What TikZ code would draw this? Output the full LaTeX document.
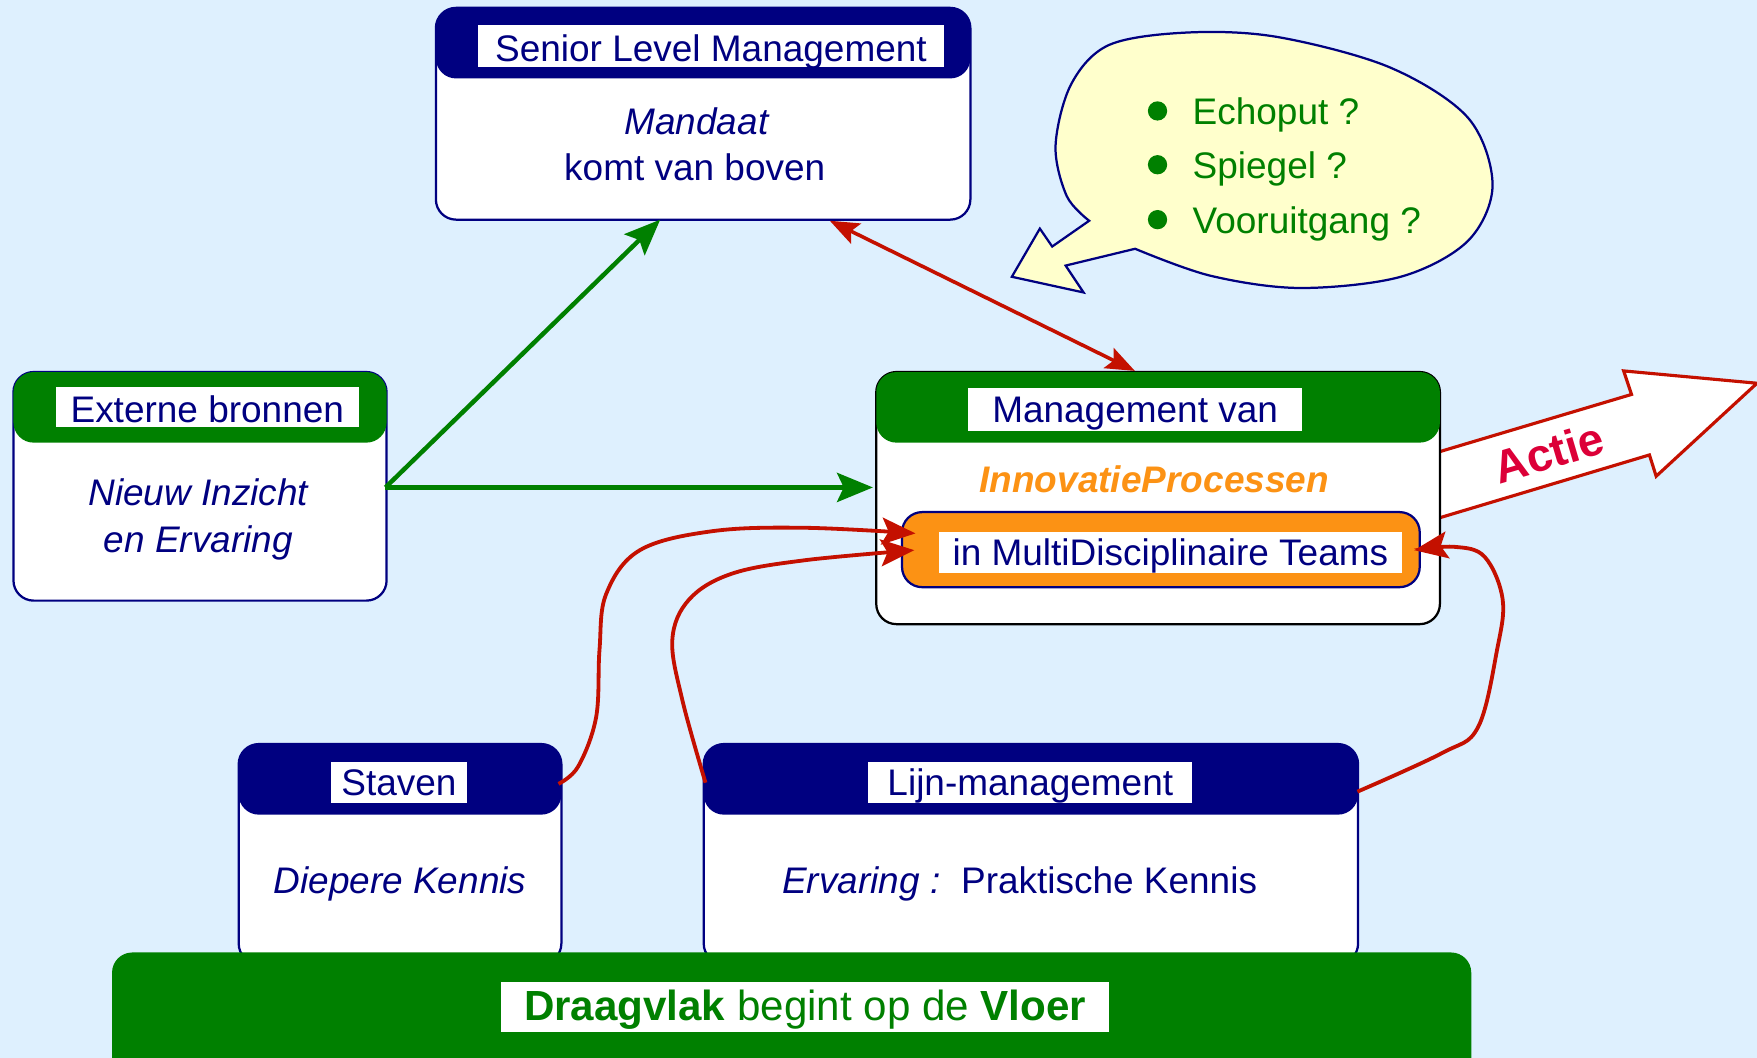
\documentclass[tikz,border=0pt]{standalone}
\usepackage{fontspec}
\setmainfont{Liberation Sans}
\usetikzlibrary{arrows.meta,calc}
\definecolor{bg}{RGB}{222,240,254}
\definecolor{navy}{RGB}{0,0,128}
\definecolor{dgreen}{RGB}{0,128,0}
\definecolor{orng}{RGB}{252,146,20}
\definecolor{rred}{RGB}{196,16,0}
\definecolor{crim}{RGB}{220,0,56}
\definecolor{ylw}{RGB}{255,255,204}
\newcommand\basefs{\fontsize{16.5}{21}\selectfont}
\begin{document}
\begin{tikzpicture}[x=0.5pt,y=-0.5pt,font=\basefs,
  bodybox/.style={draw=navy,line width=1pt,fill=white,rounded corners=9pt,inner sep=0pt},
  headbox/.style={fill=#1,rounded corners=9pt,inner sep=0pt,minimum height=31.5pt},
  lblbox/.style={fill=white,inner sep=0pt,text=navy,minimum height=19pt,text height=12pt,text depth=3.5pt},
  btext/.style={text=navy,inner sep=0pt,anchor=base},
  garrow/.style={draw=dgreen,line width=2pt,-{Stealth[length=16pt,width=13pt,inset=3pt]}},
  rarrow/.style={draw=rred,line width=1.6pt,{Stealth[length=13pt,width=10pt,inset=2.5pt]}-{Stealth[length=13pt,width=10pt,inset=2.5pt]}},
  rcurve/.style={draw=rred,line width=1.7pt,-{Stealth[length=15pt,width=12pt,inset=3pt]}},
  bubtext/.style={text=dgreen,anchor=base west,inner sep=0pt}]
\clip (0,0) rectangle (1568,944);
\fill[bg] (0,0) rectangle (1568,944);

% Actie arrow (behind management box)
\draw[draw=rred,line width=1.4pt,fill=white,line join=miter]
  (1285,403) -- (1456,352) -- (1449,331) -- (1568,342) -- (1478,425) -- (1472,406) -- (1285,462);
\node[rotate=16.5,text=crim,font=\fontsize{20.5}{22}\selectfont\bfseries,inner sep=0pt] (actie) at (1382,404) {Actie};

% Bubble
\draw[draw=navy,line width=1pt,fill=ylw,line join=miter]
  plot[smooth,tension=0.55] coordinates {(1013,222) (1080,246) (1160,257) (1250,247) (1310,215) (1332,165) (1310,105) (1240,60) (1140,33) (1060,29) (990,40) (956,75) (942,130) (952,175) (972,197)}
  -- (939,220) -- (928,204) -- (903,247) -- (967,261) -- (951,237) -- cycle;
\fill[dgreen] (1033,99) circle (4.3pt);
\fill[dgreen] (1033,147) circle (4.3pt);
\fill[dgreen] (1033,196) circle (4.3pt);
\node[bubtext] (b1) at (1064,111) {Echoput ?};
\node[bubtext] (b2) at (1064,159) {Spiegel ?};
\node[bubtext] (b3) at (1064,208) {Vooruitgang ?};

% Senior Level Management
\node[bodybox,minimum width=238.5pt,minimum height=94.5pt] (senior) at (627.5,101.5) {};
\node[headbox=navy,minimum width=238.5pt] (seniorhead) at (627.5,38.5) {};
\node[lblbox,minimum width=207.5pt] (seniorlbl) at (634.5,41) {\raisebox{-2.5pt}{Senior Level Management}};
\node[btext] (mandaat) at (621.5,120) {\itshape Mandaat};
\node[btext] (komt) at (620,161.5) {komt van boven};

% Externe bronnen
\node[bodybox,minimum width=166.5pt,minimum height=102pt] (ext) at (178.5,434) {};
\node[headbox=dgreen,minimum width=166.5pt] (exthead) at (178.5,363.5) {};
\node[lblbox,minimum width=135pt,minimum height=18pt] (extlbl) at (185,363.5) {\raisebox{-2.5pt}{Externe bronnen}};
\node[btext] (ext1) at (177,451.5) {\itshape Nieuw Inzicht};
\node[btext] (ext2) at (177,493) {\itshape en Ervaring};

% Management van
\node[bodybox,draw=black,minimum width=251.5pt,minimum height=112.5pt] (mgmt) at (1033.5,444.5) {};
\node[headbox=dgreen,minimum width=251.5pt] (mgmthead) at (1033.5,363.5) {};
\node[lblbox,minimum width=149pt] (mgmtlbl) at (1013,365.5) {\raisebox{-1.5pt}{Management van}};
\node[btext,text=orng,font=\basefs\bfseries\itshape] (innov) at (1030,439.5) {InnovatieProcessen};
\node[draw=navy,line width=1pt,fill=orng,rounded corners=9pt,minimum width=231pt,minimum height=33.5pt,inner sep=0pt] (inner) at (1036,490.5) {};
\node[lblbox,minimum width=206.5pt,minimum height=18.5pt] (innerlbl) at (1044.5,493) {\raisebox{-1.5pt}{in MultiDisciplinaire Teams}};

% Staven
\node[bodybox,minimum width=144pt,minimum height=98pt] (staven) at (357,762) {};
\node[headbox=navy,minimum width=144pt] (stavenhead) at (357,695.5) {};
\node[lblbox,minimum width=61pt,minimum height=18.5pt] (stavenlbl) at (356,698.5) {\raisebox{-1.5pt}{Staven}};
\node[btext] (diep) at (357,797.5) {\itshape Diepere Kennis};

% Lijn-management
\node[bodybox,minimum width=292pt,minimum height=98pt] (lijn) at (920,762) {};
\node[headbox=navy,minimum width=292pt] (lijnhead) at (920,695.5) {};
\node[lblbox,minimum width=144.5pt,minimum height=18.5pt] (lijnlbl) at (919.5,698.5) {\raisebox{-1.5pt}{Lijn-management}};
\node[btext] (erv) at (910,797.5) {\itshape Ervaring :\upshape\ \ Praktische Kennis};

% Floor
\node[fill=dgreen,rounded corners=9pt,minimum width=606.5pt,minimum height=60pt,inner sep=0pt] (floor) at (706.5,910) {};
\node[fill=white,minimum width=271.5pt,minimum height=22.5pt,inner sep=0pt,text=dgreen,text height=13.5pt,text depth=4pt,font=\fontsize{18.8}{22}\selectfont] (floorlbl) at (718.5,898.5) {\raisebox{-1.5pt}{\textbf{Draagvlak} begint op de \textbf{Vloer}}};

% Green arrows
\draw[garrow] ($(ext.east)+(-2,1)$) -- ($(senior.south west)!0.42!(senior.south east)+(0,-1)$);
\draw[garrow] ($(ext.east)+(-2,1)$) -- ($(mgmt.west)+(-2,-9.5)$);

% Red double arrow
\draw[rarrow] ($(senior.south west)!0.736!(senior.south east)$) -- ($(mgmt.north west)!0.459!(mgmt.north east)$);

% Red curves
\draw[rcurve] plot[smooth,tension=0.6] coordinates {($(stavenhead.east)+(-3,4)$) (516,684) (532,640) (535,580) (541,530) (571,491) (636,474) (718,471) (817,476)};
\draw[rcurve] plot[smooth,tension=0.6] coordinates {($(lijnhead.west)+(2,3)$) (609,625) (600,571) (615,535) (653,512) (718,500) (816,491)};
\draw[rcurve] plot[smooth,tension=0.6] coordinates {($(lijnhead.east)+(-1,11)$) (1287,672) (1319,649) (1336,580) (1341,535) (1325,497) (1298,488) (1262,491)};
\end{tikzpicture}
\end{document}
